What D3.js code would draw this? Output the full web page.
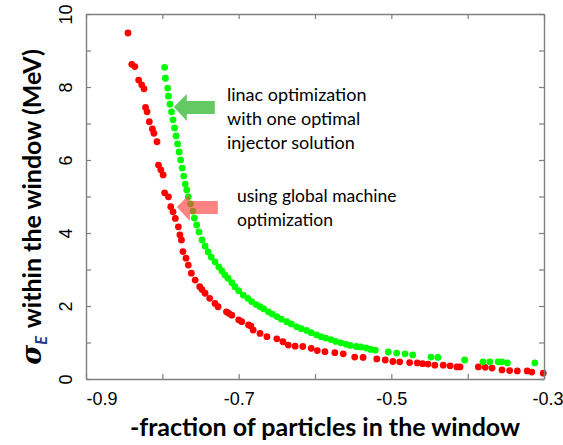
<!DOCTYPE html>
<html>
<head>
<meta charset="utf-8">
<script src="https://cdn.jsdelivr.net/npm/d3@7"></script>
<style>
  html, body { margin: 0; padding: 0; background: #ffffff; }
  svg { display: block; }
</style>
</head>
<body>
<svg id="chart" width="563" height="445"></svg>
<script>
// ---------- data ----------
// global machine optimization (red): [-fraction, sigmaE (MeV)]
const globalX = [-0.845,-0.840,-0.836,-0.831,-0.827,-0.824,-0.822,-0.820,-0.817,-0.813,-0.811,-0.807,
  -0.805,-0.802,-0.799,-0.797,-0.792,-0.789,-0.786,-0.783,-0.779,-0.777,-0.775,-0.773,-0.769,-0.766,
  -0.762,-0.757,-0.751,-0.748,-0.744,-0.738,-0.731,-0.727,-0.716,-0.713,-0.709,-0.700,-0.696,-0.687,-0.684,
  -0.681,-0.672,-0.663,-0.650,-0.642,-0.635,-0.626,-0.616,-0.605,-0.597,-0.587,-0.574,-0.563,-0.548,
  -0.537,-0.519,-0.508,-0.498,-0.489,-0.476,-0.466,-0.459,-0.452,-0.443,-0.432,-0.423,-0.414,-0.410,
  -0.386,-0.377,-0.368,-0.355,-0.345,-0.335,-0.322,-0.316,-0.301];
const globalY = [9.48,8.62,8.56,8.19,8.06,7.95,7.44,7.32,7.05,6.85,6.73,6.50,
  5.86,5.73,5.59,5.10,4.99,4.72,4.58,4.40,4.17,3.95,3.81,3.49,3.31,3.12,
  2.90,2.71,2.53,2.45,2.35,2.21,2.07,1.98,1.84,1.80,1.75,1.62,1.57,1.48,1.45,
  1.34,1.25,1.16,1.10,1.02,0.93,0.90,0.89,0.84,0.78,0.75,0.72,0.69,0.60,
  0.59,0.55,0.52,0.48,0.47,0.45,0.44,0.42,0.41,0.38,0.38,0.36,0.33,0.33,
  0.33,0.32,0.30,0.25,0.23,0.22,0.22,0.19,0.16];

// linac optimization with one optimal injector solution (green)
const linacX = [-0.797,-0.796,-0.793,-0.792,-0.790,-0.788,-0.786,-0.784,-0.782,-0.780,-0.778,-0.776,
  -0.774,-0.772,-0.770,-0.768,-0.766,-0.763,-0.760,-0.758,-0.755,-0.752,-0.748,-0.744,-0.740,-0.736,
  -0.731,-0.726,-0.722,-0.718,-0.714,-0.709,-0.705,-0.700,-0.694,-0.688,-0.683,-0.677,-0.672,-0.667,
  -0.661,-0.656,-0.650,-0.644,-0.637,-0.631,-0.624,-0.618,-0.611,-0.605,-0.598,-0.592,-0.586,-0.579,
  -0.573,-0.566,-0.559,-0.554,-0.546,-0.540,-0.533,-0.527,-0.521,-0.504,-0.493,-0.482,-0.472,-0.448,
  -0.439,-0.404,-0.380,-0.371,-0.360,-0.355,-0.348,-0.312];
const linacY = [8.54,8.24,7.97,7.75,7.53,7.32,7.10,6.88,6.66,6.44,6.22,6.00,
  5.78,5.56,5.34,5.18,4.99,4.80,4.60,4.41,4.22,4.03,3.81,3.64,3.48,3.34,
  3.21,3.07,2.96,2.85,2.76,2.64,2.53,2.42,2.30,2.21,2.12,2.04,1.98,1.92,
  1.84,1.78,1.71,1.64,1.57,1.51,1.43,1.38,1.33,1.27,1.21,1.16,1.12,1.08,
  1.03,0.99,0.95,0.92,0.89,0.88,0.85,0.81,0.79,0.74,0.71,0.69,0.66,0.60,
  0.59,0.52,0.47,0.47,0.47,0.47,0.44,0.44];

const xTicks = [-0.9,-0.8,-0.7,-0.6,-0.5,-0.4,-0.3];
const xTickLabels = [-0.9,-0.7,-0.5,-0.3];
const yTicks = [0,1,2,3,4,5,6,7,8,9,10];
const yTickLabels = [0,2,4,6,8,10];
const xTitle = "-fraction of particles in the window";
const yTitleRest = " within the window (MeV)";
const noteLinac = ["linac optimization", "with one optimal", "injector solution"];
const noteGlobal = ["using global machine", "optimization"];
// arrow tips in data units
const arrowLinacTip = [-0.785, 7.45];
const arrowGlobalTip = [-0.781, 4.71];

// ---------- drawing ----------
(function () {
const svg = d3.select("#chart");
const W = 563, H = 445;
const pL = 86, pR = 544, pT = 14, pB = 379;
const x = d3.scaleLinear().domain([-0.9, -0.3]).range([pL, pR]);
const y = d3.scaleLinear().domain([0, 10]).range([pB, pT]);

svg.append("rect").attr("width", W).attr("height", H).attr("fill", "#fff");

const frameColor = "#7f7f7f";
const tickFont = "'Liberation Sans', Arial, sans-serif";
const titleFont = "Lato, 'Open Sans', sans-serif";

// points
const redData = globalX.map((v, i) => [v, globalY[i]]);
const greenData = linacX.map((v, i) => [v, linacY[i]]);
svg.append("g").selectAll("circle").data(redData).join("circle")
  .attr("cx", d => x(d[0])).attr("cy", d => y(d[1])).attr("r", 3.4).attr("fill", "#ff0000");
svg.append("g").selectAll("circle").data(greenData).join("circle")
  .attr("cx", d => x(d[0])).attr("cy", d => y(d[1])).attr("r", 3.4).attr("fill", "#00ff00");

// axes
function styleAxis(g) {
  g.select(".domain").attr("stroke", frameColor).attr("stroke-width", 1.4);
  g.selectAll(".tick line").attr("stroke", frameColor).attr("stroke-width", 1.2);
}
const xb = svg.append("g").attr("transform", `translate(0,${pB})`)
  .call(d3.axisBottom(x).tickValues(xTicks).tickSizeInner(-5).tickSizeOuter(0)
    .tickFormat(d => xTickLabels.some(v => Math.abs(v - d) < 1e-9) ? d.toFixed(1) : ""));
styleAxis(xb);
xb.selectAll(".tick text").attr("font-family", tickFont).attr("font-size", 18)
  .attr("fill", "#000").attr("y", 13);
xb.selectAll(".tick text").filter(d => Math.abs(d + 0.9) < 1e-9).attr("text-anchor", "start").attr("x", 0);
xb.selectAll(".tick text").filter(d => Math.abs(d + 0.3) < 1e-9).attr("text-anchor", "end").attr("x", W - pR);

const xt = svg.append("g").attr("transform", `translate(0,${pT})`)
  .call(d3.axisTop(x).tickValues(xTicks).tickSizeInner(-5).tickSizeOuter(0).tickFormat(""));
styleAxis(xt);

const yl = svg.append("g").attr("transform", `translate(${pL},0)`)
  .call(d3.axisLeft(y).tickValues(yTicks).tickSizeInner(-5).tickSizeOuter(0)
    .tickFormat(d => yTickLabels.includes(d) ? String(d) : ""));
styleAxis(yl);
yl.selectAll(".tick text").attr("font-family", tickFont).attr("font-size", 18).attr("fill", "#000")
  .attr("x", null).attr("dy", null)
  .attr("text-anchor", "middle")
  .attr("transform", "translate(-14,0) rotate(-90)");

const yr = svg.append("g").attr("transform", `translate(${pR},0)`)
  .call(d3.axisRight(y).tickValues(yTicks).tickSizeInner(-5).tickSizeOuter(0).tickFormat(""));
styleAxis(yr);

// axis titles
svg.append("text").attr("x", 325).attr("y", 436).attr("text-anchor", "middle")
  .attr("font-family", titleFont).attr("font-weight", "bold").attr("font-size", 25)
  .attr("fill", "#000").text(xTitle);

const yt = svg.append("text").attr("transform", "translate(41,207) rotate(-90)")
  .attr("text-anchor", "middle").attr("font-family", titleFont).attr("font-weight", "bold")
  .attr("font-size", 25).attr("fill", "#000");
yt.append("tspan").attr("font-style", "italic").attr("font-family", "'DejaVu Serif', serif")
  .attr("font-size", 27).text("σ");
yt.append("tspan").attr("font-style", "italic").attr("font-size", 17).attr("dy", 6).attr("fill", "#1f3a8a").text("E");
yt.append("tspan").attr("dy", -6).attr("dx", 2).text(yTitleRest);

// arrows (block arrows pointing left)
function blockArrow(tip, color, opacity) {
  const tx = x(tip[0]), ty = y(tip[1]);
  const pts = [[0,0],[13,-13],[13,-6],[41,-6],[41,7],[13,7],[13,14]];
  svg.append("polygon")
    .attr("points", pts.map(p => [tx + p[0], ty + p[1]].join(",")).join(" "))
    .attr("fill", color).attr("fill-opacity", opacity);
}
blockArrow(arrowLinacTip, "#3cbb3c", 0.8);
blockArrow(arrowGlobalTip, "#ff4040", 0.65);

// annotation texts
const noteFont = "Lato, 'Open Sans', sans-serif";
noteLinac.forEach((t, i) => svg.append("text").attr("x", 227).attr("y", 101 + i * 24)
  .attr("font-family", noteFont).attr("font-size", 18).attr("fill", "#000").text(t));
noteGlobal.forEach((t, i) => svg.append("text").attr("x", 237).attr("y", 202 + i * 24)
  .attr("font-family", noteFont).attr("font-size", 17.5).attr("fill", "#000").text(t));
})();
</script>
</body>
</html>
